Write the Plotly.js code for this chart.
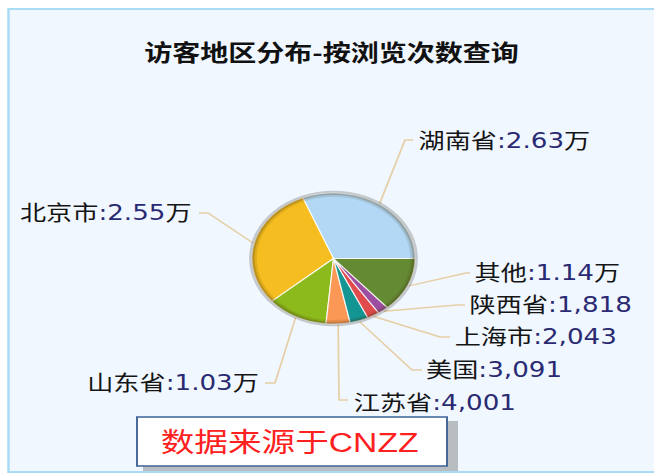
<!DOCTYPE html>
<html>
<head>
<meta charset="utf-8">
<script src="https://cdn.plot.ly/plotly-3.0.1.min.js"></script>
<style>
  html, body { margin: 0; padding: 0; background: #ffffff; overflow: hidden; }
  #wrap { width: 654px; height: 476px; overflow: hidden; }
  #chart { width: 525px; height: 476px; transform: scaleX(1.245714); transform-origin: 0 0; }
</style>
</head>
<body>
<div id="wrap"><div id="chart"></div></div>
<script>
// ---- data ----
const regions = ['湖南省', '北京市', '山东省', '江苏省', '美国', '上海市', '陕西省', '其他'];
const visits = [26300, 25500, 10300, 4001, 3091, 2043, 1818, 11400];
const valueLabels = ['2.63万', '2.55万', '1.03万', '4,001', '3,091', '2,043', '1,818', '1.14万'];
const sliceColors = ['#b2d8f5', '#f5bd1f', '#8cb91b', '#fc9855', '#139594', '#e04c4e', '#9c4fa0', '#648b34'];
const chartTitle = '访客地区分布-按浏览次数查询';
const sourceNote = '数据来源于CNZZ';

// ---- layout helpers (reference pixel coordinates) ----
const W = 525, H = 476, S = 654 / 525;
const px = x => x / W;            // base pixel -> paper x
const py = y => 1 - y / H;        // pixel -> paper y
const sx = x => x / S;            // reference (stretched) pixel -> base pixel

const pie = { cx: sx(333.5), cy: 258.5, r: 65.5 };

// label placement in reference pixels: text anchor point, elbow, end of leader line
const labelPos = [
  { tx: 416, ty: 141, side: 'left',  elbow: [405, 140], end: [413, 140] },
  { tx: 194, ty: 213, side: 'right', elbow: [208, 213], end: [199, 213] },
  { tx: 261, ty: 383, side: 'right', elbow: [275, 383], end: [265, 383] },
  { tx: 351, ty: 403, side: 'left',  elbow: [339, 400], end: [348, 400] },
  { tx: 424, ty: 370, side: 'left',  elbow: [412, 370], end: [422, 370] },
  { tx: 452, ty: 337, side: 'left',  elbow: [440, 337], end: [450, 337] },
  { tx: 467, ty: 305, side: 'left',  elbow: [457, 305], end: [465, 305] },
  { tx: 472, ty: 273, side: 'left',  elbow: [466, 273], end: [470, 273] }
];

const total = visits.reduce((a, b) => a + b, 0);
let acc = 0;
const shapes = [];
const annotations = [];

// background frame
shapes.push({
  type: 'rect', xref: 'paper', yref: 'paper', layer: 'below',
  x0: px(sx(8.5)), x1: px(W + 20), y0: py(472), y1: py(9),
  fillcolor: '#f0f7fe', line: { color: '#a9dbf5', width: 2 }
});

// leader lines & labels computed from slice mid-angles (first slice starts at 3 o'clock, counterclockwise)
visits.forEach((v, i) => {
  const mid = (acc + v / 2) / total * 2 * Math.PI;
  acc += v;
  const ax = pie.cx + (pie.r + 1) * Math.cos(mid);
  const ay = pie.cy - (pie.r + 1) * Math.sin(mid);
  const L = labelPos[i];
  shapes.push({
    type: 'path', xref: 'paper', yref: 'paper', layer: 'above',
    path: `M ${px(ax)} ${py(ay)} L ${px(sx(L.elbow[0]))} ${py(L.elbow[1])} L ${px(sx(L.end[0]))} ${py(L.end[1])}`,
    line: { color: '#e6cfa6', width: 1.4 }
  });
  const val = valueLabels[i];
  const num = val.replace('万', '');
  const unit = val.endsWith('万') ? '万' : '';
  annotations.push({
    xref: 'paper', yref: 'paper', x: px(sx(L.tx)), y: py(L.ty),
    xanchor: L.side, yanchor: 'middle', showarrow: false,
    text: `${regions[i]}<span style="color:#2a2a72">:${num}</span>${unit}`,
    font: { family: 'DejaVu Sans, Noto Sans CJK SC, sans-serif', size: 21, color: '#151515' }
  });
});

// 3D-like rim on the pie
const circ = (r, color, width) => ({
  type: 'circle', xref: 'paper', yref: 'paper', layer: 'above',
  x0: px(pie.cx - r), x1: px(pie.cx + r), y0: py(pie.cy + r), y1: py(pie.cy - r),
  line: { color, width }, fillcolor: 'rgba(0,0,0,0)'
});
shapes.push(circ(pie.r + 1.2, 'rgba(60,60,60,0.25)', 2));
shapes.push(circ(pie.r - 1, 'rgba(70,55,20,0.32)', 2.2));
shapes.push(circ(pie.r - 3, 'rgba(70,55,20,0.12)', 2));

// source note box with shadow
shapes.push({
  type: 'rect', xref: 'paper', yref: 'paper', layer: 'above',
  x0: px(sx(143)), x1: px(sx(458)), y0: py(471), y1: py(421),
  fillcolor: 'rgba(80,80,80,0.35)', line: { width: 0 }
});
shapes.push({
  type: 'rect', xref: 'paper', yref: 'paper', layer: 'above',
  x0: px(sx(137)), x1: px(sx(447)), y0: py(466), y1: py(417),
  fillcolor: '#ffffff', line: { color: '#3d6295', width: 1.5 }
});
annotations.push({
  xref: 'paper', yref: 'paper', x: px(sx(290)), y: py(443),
  xanchor: 'center', yanchor: 'middle', showarrow: false,
  text: sourceNote,
  font: { family: 'Liberation Sans, Noto Sans CJK SC, sans-serif', size: 27, color: '#ff2020' }
});

// Plotly places the first slice clockwise of `rotation` when counterclockwise,
// so shift by the first slice's share to start it at 3 o'clock.
const firstShare = visits[0] / total * 360;

const trace = {
  type: 'pie',
  labels: regions,
  values: visits,
  sort: false,
  direction: 'counterclockwise',
  rotation: 90 - firstShare,
  textinfo: 'none',
  textposition: 'none',
  hoverinfo: 'label+value',
  showlegend: false,
  marker: { colors: sliceColors, line: { color: 'rgba(255,255,255,0.85)', width: 1 } },
  domain: {
    x: [px(pie.cx - pie.r), px(pie.cx + pie.r)],
    y: [py(pie.cy + pie.r), py(pie.cy - pie.r)]
  }
};

const layout = {
  width: W, height: H,
  margin: { l: 0, r: 0, t: 0, b: 0 },
  paper_bgcolor: '#ffffff',
  showlegend: false,
  title: {
    text: '<b>' + chartTitle + '</b>',
    x: px(sx(331.5)), xanchor: 'center', xref: 'paper',
    y: py(53), yanchor: 'middle', yref: 'paper',
    font: { family: 'Noto Sans CJK SC, sans-serif', size: 22.5, color: '#111111' }
  },
  shapes, annotations
};

Plotly.newPlot('chart', [trace], layout, { displayModeBar: false, staticPlot: true });
</script>
</body>
</html>
